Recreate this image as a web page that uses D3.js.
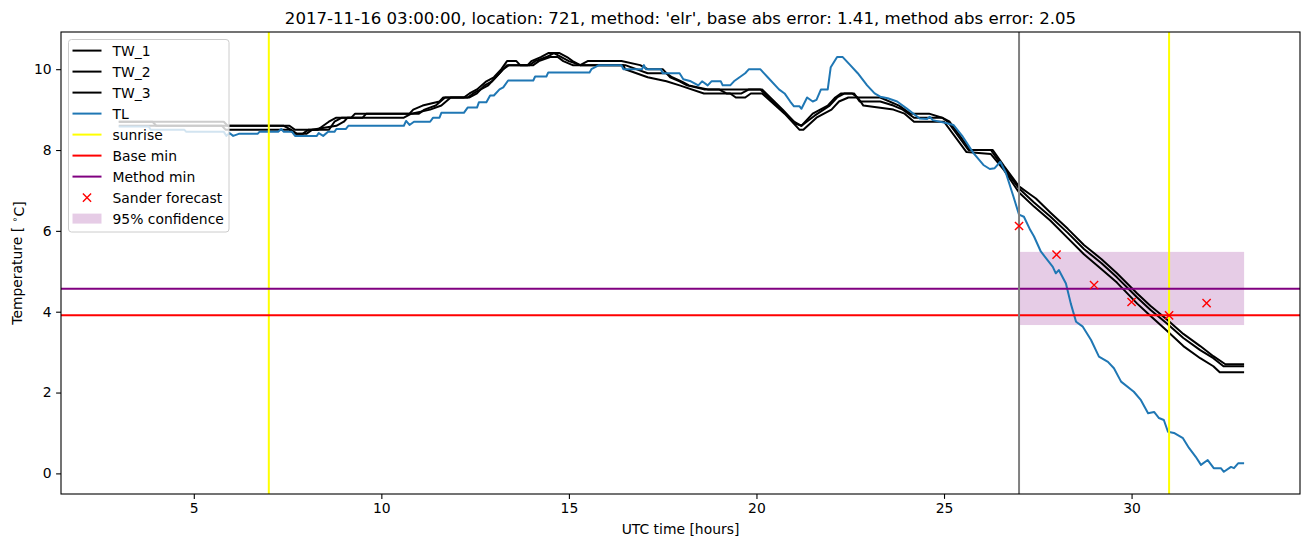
<!DOCTYPE html>
<html>
<head>
<meta charset="utf-8">
<script src="https://cdn.jsdelivr.net/npm/d3@7"></script>
<style>
  html, body { margin: 0; padding: 0; background: #fff; }
  svg { display: block; font-family: "DejaVu Sans", sans-serif; }
</style>
</head>
<body>
<svg id="chart" width="1310" height="547"></svg>
<script>
// ---------------- data (time in hours UTC, temperature in °C) ----------------
const titleText = "2017-11-16 03:00:00, location: 721, method: 'elr', base abs error: 1.41, method abs error: 2.05";
const xTicks = [5, 10, 15, 20, 25, 30];
const yTicks = [0, 2, 4, 6, 8, 10];

const tw1 = [[3.0,8.7],[5.8,8.7],[5.9,8.6],[7.55,8.6],[7.7,8.5],[8.3,8.5],[8.45,8.6],[8.6,8.7],[8.8,8.8],[9.2,8.8],[9.3,8.9],
  [10.75,8.9],[10.85,9.0],[11.1,9.1],[11.55,9.2],[11.65,9.3],[12.2,9.3],[12.35,9.4],[12.55,9.5],[12.8,9.7],[13.0,9.8],[13.2,10.0],
  [13.35,10.2],[13.6,10.2],[13.7,10.1],[13.9,10.1],[14.0,10.2],[14.25,10.3],[14.45,10.4],[14.75,10.4],[14.95,10.3],[15.1,10.2],
  [15.3,10.1],[15.5,10.2],[16.4,10.2],[16.9,10.1],[17.1,10.0],[17.5,10.0],[17.7,9.8],[17.95,9.7],[18.15,9.6],[18.6,9.5],[20.1,9.5],
  [20.65,9.0],[21.0,8.7],[21.2,8.6],[21.5,8.9],[21.9,9.1],[22.1,9.3],[22.25,9.4],[22.55,9.4],[22.7,9.3],[23.3,9.3],[23.8,9.1],
  [24.1,8.9],[24.6,8.9],[24.95,8.8],[25.15,8.7],[25.7,8.0],[26.3,8.0],[26.6,7.6],[27.0,7.1],[27.3,6.9],[27.45,6.8],[27.84,6.45],
  [28.3,6.05],[28.73,5.65],[29.2,5.3],[29.61,4.95],[30.15,4.45],[30.5,4.15],[30.95,3.8],[31.38,3.45],[31.83,3.15],[32.18,2.9],
  [32.5,2.7],[33.0,2.7]];

const tw2 = [[3.0,8.7],[3.9,8.7],[4.0,8.6],[7.4,8.6],[7.6,8.5],[7.75,8.4],[7.9,8.4],[8.05,8.5],[8.6,8.5],[8.75,8.7],[8.95,8.8],
  [9.5,8.8],[9.6,8.9],[11.0,8.9],[11.15,9.0],[11.45,9.1],[11.7,9.3],[12.3,9.3],[12.45,9.4],[12.65,9.5],[12.85,9.6],[13.05,9.8],
  [13.25,10.0],[13.4,10.1],[13.95,10.1],[14.1,10.2],[14.4,10.3],[14.6,10.4],[14.8,10.3],[15.0,10.2],[15.3,10.1],[16.5,10.1],
  [17.1,9.9],[17.6,9.9],[17.75,9.8],[18.0,9.7],[18.2,9.6],[18.7,9.5],[19.0,9.5],[19.2,9.4],[19.6,9.4],[19.8,9.5],[20.15,9.5],
  [20.7,9.0],[21.05,8.65],[21.2,8.6],[21.55,8.85],[21.95,9.1],[22.15,9.3],[22.35,9.4],[22.6,9.4],[22.75,9.2],[23.3,9.2],
  [23.65,9.1],[23.9,9.0],[24.2,8.8],[24.95,8.8],[25.1,8.7],[25.65,8.0],[26.25,8.0],[26.55,7.6],[27.0,7.05],[27.4,6.7],
  [27.84,6.35],[28.3,5.95],[28.73,5.55],[29.2,5.2],[29.61,4.85],[30.15,4.35],[30.5,4.05],[30.95,3.7],[31.38,3.35],[31.83,3.05],
  [32.18,2.85],[32.45,2.65],[33.0,2.65]];

const tw3 = [[3.0,8.6],[5.75,8.6],[5.85,8.5],[7.55,8.5],[7.7,8.4],[8.0,8.4],[8.15,8.5],[8.8,8.6],[9.0,8.7],[9.1,8.8],[10.6,8.8],
  [10.8,8.9],[11.3,9.0],[11.6,9.1],[11.85,9.3],[12.35,9.3],[12.55,9.4],[12.75,9.6],[12.95,9.7],[13.15,9.9],[13.35,10.1],[14.05,10.1],
  [14.2,10.2],[14.5,10.3],[14.7,10.3],[14.85,10.2],[15.1,10.1],[16.45,10.1],[16.5,10.0],[17.1,9.8],[17.6,9.7],[17.95,9.6],
  [18.6,9.4],[19.3,9.4],[19.45,9.3],[19.7,9.3],[19.85,9.4],[20.15,9.4],[20.75,8.9],[21.15,8.5],[21.25,8.5],[21.6,8.8],[22.0,9.0],
  [22.2,9.2],[22.45,9.3],[22.7,9.3],[22.85,9.1],[23.65,9.0],[23.95,8.9],[24.2,8.7],[25.0,8.7],[25.6,7.95],[26.25,7.9],[26.6,7.5],
  [27.0,6.95],[27.4,6.6],[27.84,6.25],[28.3,5.82],[28.73,5.42],[29.2,5.05],[29.61,4.72],[30.15,4.2],[30.5,3.9],[30.95,3.52],
  [31.38,3.15],[31.83,2.85],[32.18,2.65],[32.35,2.5],[33.0,2.5]];

const tl = [[3.0,8.58],[3.8,8.58],[3.85,8.5],[4.75,8.5],[4.8,8.45],[5.8,8.45],[5.87,8.35],[5.95,8.42],[6.05,8.35],[6.2,8.4],
  [6.7,8.4],[6.75,8.45],[7.25,8.45],[7.33,8.52],[7.4,8.45],[7.62,8.45],[7.7,8.35],[8.28,8.35],[8.33,8.42],[8.45,8.35],[8.58,8.45],
  [8.75,8.45],[8.8,8.52],[9.05,8.52],[9.12,8.6],[10.6,8.6],[10.66,8.72],[10.75,8.62],[10.87,8.7],[11.3,8.7],[11.38,8.8],[11.55,8.8],
  [11.6,8.92],[12.2,8.92],[12.3,9.05],[12.55,9.05],[12.6,9.18],[12.8,9.18],[12.9,9.35],[13.0,9.35],[13.15,9.5],[13.25,9.55],
  [13.38,9.72],[14.05,9.72],[14.1,9.82],[14.4,9.82],[14.45,9.92],[15.55,9.92],[15.6,10.0],[15.8,10.1],[16.4,10.1],[16.45,10.0],
  [16.95,10.0],[17.0,10.1],[17.05,10.0],[17.45,10.0],[17.5,9.9],[17.95,9.9],[18.05,9.75],[18.25,9.7],[18.45,9.6],[18.55,9.7],
  [18.7,9.6],[18.8,9.7],[19.05,9.7],[19.1,9.6],[19.3,9.6],[19.4,9.7],[19.55,9.8],[19.7,9.9],[19.8,10.0],[20.1,10.0],[20.3,9.8],
  [20.6,9.5],[20.75,9.4],[20.9,9.2],[21.0,9.08],[21.15,9.08],[21.2,9.02],[21.35,9.3],[21.5,9.2],[21.6,9.24],[21.72,9.5],[21.9,9.5],
  [21.98,10.05],[22.15,10.3],[22.3,10.3],[22.5,10.1],[22.7,9.9],[22.95,9.6],[23.15,9.4],[23.3,9.32],[23.5,9.28],[23.75,9.2],
  [24.0,9.03],[24.35,8.78],[24.55,8.77],[24.62,8.82],[24.7,8.74],[25.05,8.67],[25.25,8.62],[25.5,8.33],[25.78,7.93],[26.05,7.63],
  [26.22,7.53],[26.35,7.55],[26.5,7.71],[26.65,7.43],[26.85,6.85],[27.0,6.4],[27.13,6.35],[27.3,6.02],[27.4,5.86],[27.58,5.49],
  [27.9,5.11],[27.98,4.95],[28.06,5.03],[28.25,4.7],[28.38,4.2],[28.52,3.75],[28.7,3.63],[28.92,3.3],[29.13,2.89],[29.37,2.76],
  [29.53,2.6],[29.72,2.27],[30.06,2.02],[30.25,1.81],[30.44,1.49],[30.6,1.52],[30.73,1.37],[30.86,1.32],[30.97,1.03],[31.13,1.0],
  [31.37,0.87],[31.53,0.63],[31.71,0.41],[31.85,0.21],[32.03,0.33],[32.19,0.13],[32.38,0.13],[32.46,0.04],[32.65,0.16],
  [32.73,0.13],[32.84,0.25],[33.0,0.25]];

const sunriseTimes = [7, 31];
const forecastStart = [27];
const baseMin = [3.91];
const methodMin = [4.57];
const sanderTimes = [27, 28, 29, 30, 31, 32];
const sanderValues = [6.12, 5.41, 4.66, 4.24, 3.91, 4.21];
const confidence = [27, 33, 3.67, 5.48]; // x0, x1, low, high

const legendLabels = ["TW_1", "TW_2", "TW_3", "TL", "sunrise", "Base min", "Method min", "Sander forecast", "95% confidence"];

// ---------------- layout ----------------
const L = 61, R = 1300, T = 32, B = 494;
const svg = d3.select("#chart");
const x = d3.scaleLinear().domain([1.46, 34.49]).range([L, R]);
const y = d3.scaleLinear().domain([-0.51, 10.92]).range([B, T]);

svg.append("rect").attr("width", 1310).attr("height", 547).attr("fill", "#fff");

svg.append("defs").append("clipPath").attr("id", "clip")
  .append("rect").attr("x", L).attr("y", T).attr("width", R - L).attr("height", B - T);

const plot = svg.append("g").attr("clip-path", "url(#clip)");

// confidence band
plot.append("rect")
  .attr("x", x(confidence[0])).attr("width", x(confidence[1]) - x(confidence[0]))
  .attr("y", y(confidence[3])).attr("height", y(confidence[2]) - y(confidence[3]))
  .attr("fill", "purple").attr("fill-opacity", 0.2);

const line = d3.line().x(d => x(d[0])).y(d => y(d[1]));
[tw1, tw2, tw3].forEach(s => {
  plot.append("path").datum(s).attr("d", line).attr("fill", "none")
    .attr("stroke", "#000").attr("stroke-width", 2).attr("stroke-linejoin", "round");
});
plot.append("path").datum(tl).attr("d", line).attr("fill", "none")
  .attr("stroke", "#1f77b4").attr("stroke-width", 2).attr("stroke-linejoin", "round");

sunriseTimes.forEach(t => {
  plot.append("line").attr("x1", x(t)).attr("x2", x(t)).attr("y1", T).attr("y2", B)
    .attr("stroke", "yellow").attr("stroke-width", 2);
});
plot.append("line").attr("x1", L).attr("x2", R).attr("y1", y(baseMin[0])).attr("y2", y(baseMin[0]))
  .attr("stroke", "red").attr("stroke-width", 2);
plot.append("line").attr("x1", L).attr("x2", R).attr("y1", y(methodMin[0])).attr("y2", y(methodMin[0]))
  .attr("stroke", "purple").attr("stroke-width", 2);
forecastStart.forEach(t => {
  plot.append("line").attr("x1", x(t)).attr("x2", x(t)).attr("y1", T).attr("y2", B)
    .attr("stroke", "gray").attr("stroke-width", 2);
});

// Sander forecast markers
const mk = 4.1;
sanderTimes.forEach((t, i) => {
  const cx = x(t), cy = y(sanderValues[i]);
  plot.append("path")
    .attr("d", `M${cx - mk},${cy - mk}L${cx + mk},${cy + mk}M${cx - mk},${cy + mk}L${cx + mk},${cy - mk}`)
    .attr("stroke", "red").attr("stroke-width", 1.4).attr("fill", "none");
});

// ---------------- axes ----------------
const xAxis = d3.axisBottom(x).tickValues(xTicks).tickSize(4.9).tickPadding(4.5).tickFormat(d3.format("d"));
const yAxis = d3.axisLeft(y).tickValues(yTicks).tickSize(4.9).tickPadding(4.5).tickFormat(d3.format("d"));
const gx = svg.append("g").attr("transform", `translate(0,${B})`).call(xAxis);
const gy = svg.append("g").attr("transform", `translate(${L},0)`).call(yAxis);
[gx, gy].forEach(g => {
  g.select(".domain").remove();
  g.selectAll(".tick line").attr("stroke", "#000").attr("stroke-width", 1.1);
  g.selectAll(".tick text").attr("fill", "#000").attr("font-size", "13.9px").attr("font-family", "DejaVu Sans");
});

// spines
svg.append("rect").attr("x", L).attr("y", T).attr("width", R - L).attr("height", B - T)
  .attr("fill", "none").attr("stroke", "#000").attr("stroke-width", 1.1);

// labels
svg.append("text").attr("x", (L + R) / 2).attr("y", 24).attr("text-anchor", "middle")
  .attr("font-size", "16.6px").attr("fill", "#000").text(titleText);
svg.append("text").attr("x", (L + R) / 2).attr("y", 534).attr("text-anchor", "middle")
  .attr("font-size", "13.9px").attr("fill", "#000").text("UTC time [hours]");
const yl = svg.append("text").attr("transform", `translate(22,${(T + B) / 2}) rotate(-90)`)
  .attr("text-anchor", "middle").attr("font-size", "13.9px").attr("fill", "#000");
yl.append("tspan").text("Temperature [\u00a0");
yl.append("tspan").attr("dy", "-0.4em").attr("font-size", "9.7px").text("\u2218");
yl.append("tspan").attr("dy", "0.4em").text("C]");

// ---------------- legend ----------------
const lg = svg.append("g");
lg.append("rect").attr("x", 68.5).attr("y", 39.5).attr("width", 160.5).attr("height", 192.5).attr("rx", 3)
  .attr("fill", "#fff").attr("fill-opacity", 0.8).attr("stroke", "#cccccc").attr("stroke-width", 1);
const styles = [
  {type: "line", color: "#000"}, {type: "line", color: "#000"}, {type: "line", color: "#000"},
  {type: "line", color: "#1f77b4"}, {type: "line", color: "yellow"}, {type: "line", color: "red"},
  {type: "line", color: "purple"}, {type: "x", color: "red"}, {type: "patch", color: "purple"}
];
legendLabels.forEach((lab, i) => {
  const cy = 50.6 + i * 21;
  const s = styles[i];
  if (s.type === "line") {
    lg.append("line").attr("x1", 72.5).attr("x2", 101.5).attr("y1", cy).attr("y2", cy)
      .attr("stroke", s.color).attr("stroke-width", 2);
  } else if (s.type === "x") {
    const cx = 87;
    lg.append("path").attr("d", `M${cx - mk},${cy - mk}L${cx + mk},${cy + mk}M${cx - mk},${cy + mk}L${cx + mk},${cy - mk}`)
      .attr("stroke", "red").attr("stroke-width", 1.4);
  } else {
    lg.append("rect").attr("x", 72.5).attr("y", cy - 5).attr("width", 29).attr("height", 10)
      .attr("fill", "purple").attr("fill-opacity", 0.2);
  }
  lg.append("text").attr("x", 112.5).attr("y", cy).attr("dy", "0.36em")
    .attr("font-size", "13.9px").attr("fill", "#000").text(lab);
});
</script>
</body>
</html>
